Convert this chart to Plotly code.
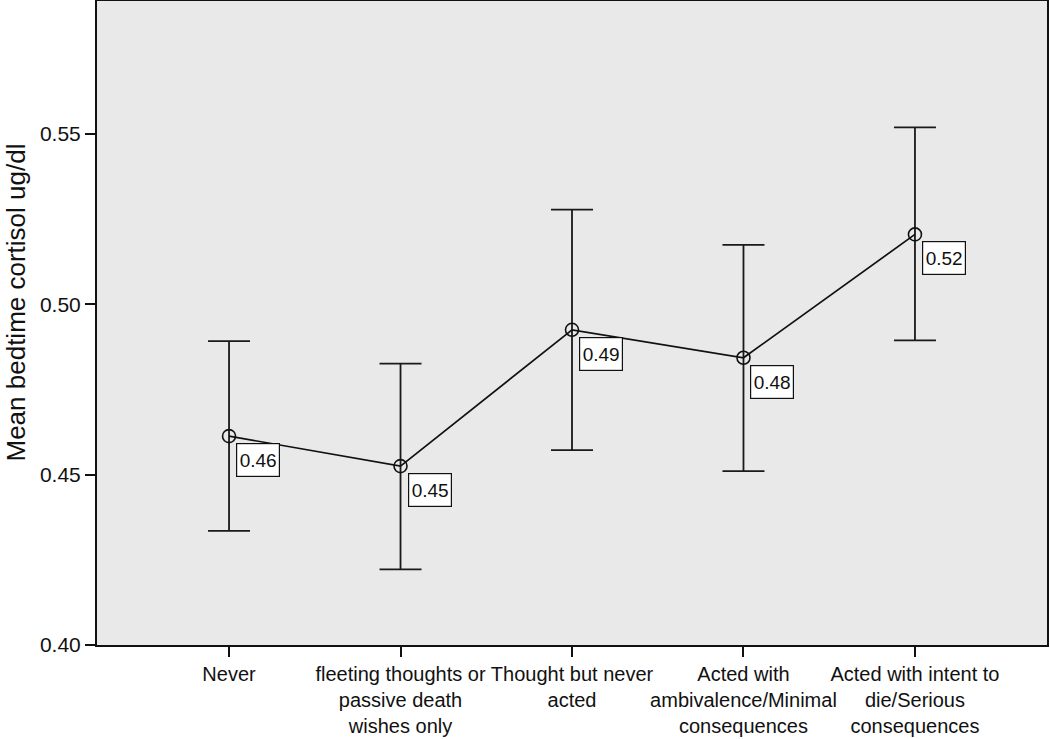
import plotly.graph_objects as go

categories = [
    "Never",
    "fleeting thoughts or<br>passive death<br>wishes only",
    "Thought but never<br>acted",
    "Acted with<br>ambivalence/Minimal<br>consequences",
    "Acted with intent to<br>die/Serious<br>consequences",
]
means = [0.4613, 0.4525, 0.4925, 0.4843, 0.5205]
upper = [0.4892, 0.4826, 0.5278, 0.5174, 0.5519]
lower = [0.4335, 0.4222, 0.4572, 0.4510, 0.4894]
labels = [f"{m:.2f}" for m in means]
ytick_vals = [0.40, 0.45, 0.50, 0.55]
ytick_text = ["0.40", "0.45", "0.50", "0.55"]

W, H = 1050, 739
L, R, T, B = 97, 3, 1, 94

fig = go.Figure()
fig.add_trace(go.Scatter(
    x=list(range(len(categories))), y=means,
    mode="lines+markers",
    line=dict(color="#111111", width=1.7),
    marker=dict(symbol="circle-open", size=13, color="#111111", line=dict(width=1.6)),
    error_y=dict(type="data", symmetric=False,
                 array=[u - m for u, m in zip(upper, means)],
                 arrayminus=[m - l for m, l in zip(means, lower)],
                 color="#1a1a1a", thickness=1.8, width=21),
    showlegend=False, hoverinfo="skip",
))

for i, (m, t) in enumerate(zip(means, labels)):
    fig.add_annotation(x=i, y=m, text=t, showarrow=False,
                       xanchor="left", yanchor="top", xshift=7, yshift=-7,
                       width=38, height=28,
                       font=dict(family="Liberation Sans, Arial, sans-serif", size=19, color="#111111"),
                       bgcolor="white", bordercolor="#111111", borderwidth=1.2, borderpad=2)

pw = W - L - R
ph = H - T - B
fig.add_annotation(text="Mean bedtime cortisol ug/dl", xref="paper", yref="paper",
                   x=(16 - L) / pw, y=(H - B - 302.5) / ph, textangle=-90,
                   xanchor="center", yanchor="middle", showarrow=False,
                   font=dict(family="Liberation Sans, Arial, sans-serif", size=26, color="#111111"))

fig.update_layout(
    width=W, height=H,
    margin=dict(l=L, r=R, t=T, b=B, pad=0, autoexpand=False),
    paper_bgcolor="white", plot_bgcolor="#e9e9e9",
    font=dict(family="Liberation Sans, Arial, sans-serif", color="#111111"),
)
fig.update_xaxes(
    range=[-0.77, 4.77], tickmode="array",
    tickvals=list(range(len(categories))), ticktext=categories,
    ticks="outside", ticklen=10, tickcolor="#111111", tickwidth=1.5,
    showline=True, linecolor="#111111", linewidth=2, mirror=True,
    showgrid=False, zeroline=False, tickfont=dict(size=20),
    tickangle=0, automargin=False,
)
fig.update_yaxes(
    range=[0.40, 0.589], tickmode="array", tickvals=ytick_vals, ticktext=ytick_text,
    ticks="outside", ticklen=10, tickcolor="#111111", tickwidth=1.5,
    showline=True, linecolor="#111111", linewidth=2, mirror=True,
    showgrid=False, zeroline=False, tickfont=dict(size=21), automargin=False,
)

fig.write_html("out.html", config={"displayModeBar": False},
               post_script="document.body.style.margin='0';document.body.style.overflow='hidden';")
